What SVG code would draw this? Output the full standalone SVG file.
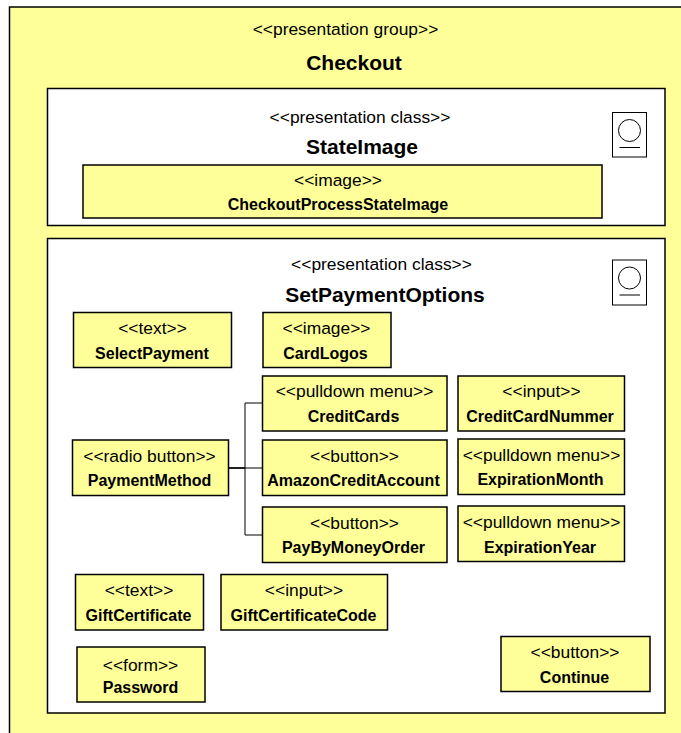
<svg xmlns="http://www.w3.org/2000/svg" width="681" height="733" viewBox="0 0 681 733">
<style>
text{font-family:"Liberation Sans",Arial,sans-serif;fill:#000;text-anchor:middle}
.s{font-size:17.4px}
.b{font-size:16px;font-weight:bold}
.h{font-size:21px;font-weight:bold}
.y{fill:#ffff99;stroke:#000;stroke-width:1.5}
.w{fill:#fff;stroke:#000;stroke-width:1.5}
.i{fill:none;stroke:#000;stroke-width:1}
.c{fill:none;stroke:#000;stroke-width:1}
</style>
<rect width="681" height="733" fill="#fff"/>
<g id="checkout">
<rect class="y" x="9.5" y="7" width="690" height="740"/>
<text class="s" x="345.500" y="35">&lt;&lt;presentation group&gt;&gt;</text>
<text class="h" x="354" y="70">Checkout</text>
</g>
<g id="stateimage">
<rect class="w" x="47.5" y="88.500" width="617.5" height="137"/>
<text class="s" x="360" y="123">&lt;&lt;presentation class&gt;&gt;</text>
<text class="h" x="362" y="154">StateImage</text>
<g><rect class="i" x="612.5" y="112.500" width="34" height="44.500"/><circle class="i" cx="629.5" cy="130.500" r="11"/><path class="i" d="M619.5 147.500H640"/></g>
</g>
<g id="checkoutprocessstateimage">
<rect class="y" x="83" y="165" width="519" height="53"/>
<text class="s" x="338" y="186">&lt;&lt;image&gt;&gt;</text>
<text class="b" x="338" y="210">CheckoutProcessStateImage</text>
</g>
<g id="setpaymentoptions">
<rect class="w" x="47.5" y="238.500" width="617.5" height="474.500"/>
<text class="s" x="381.500" y="270">&lt;&lt;presentation class&gt;&gt;</text>
<text class="h" x="385" y="302">SetPaymentOptions</text>
<g><rect class="i" x="612.5" y="260" width="34" height="45"/><circle class="i" cx="629.5" cy="278" r="11"/><path class="i" d="M619.5 295H640"/></g>
</g>
<g id="connectors">
<path class="c" d="M228 468H262M245 403V535M245 403H262M245 535H262"/>
<path d="M228 468H245" fill="none" stroke="#000" stroke-width="1.5"/>
</g>
<g id="selectpayment"><rect class="y" x="73.500" y="312.500" width="158" height="55"/><text class="s" x="152.500" y="334">&lt;&lt;text&gt;&gt;</text><text class="b" x="152" y="359">SelectPayment</text></g>
<g id="cardlogos"><rect class="y" x="263" y="312.500" width="128" height="55"/><text class="s" x="326.500" y="334">&lt;&lt;image&gt;&gt;</text><text class="b" x="325.500" y="359">CardLogos</text></g>
<g id="creditcards"><rect class="y" x="262.500" y="376" width="184.500" height="55"/><text class="s" x="354.500" y="397">&lt;&lt;pulldown menu&gt;&gt;</text><text class="b" x="353.500" y="422">CreditCards</text></g>
<g id="creditcardnummer"><rect class="y" x="458" y="376" width="166.500" height="55"/><text class="s" x="541.500" y="397">&lt;&lt;input&gt;&gt;</text><text class="b" x="540" y="422">CreditCardNummer</text></g>
<g id="paymentmethod"><rect class="y" x="72.500" y="440" width="156" height="55.500"/><text class="s" x="149.500" y="462">&lt;&lt;radio button&gt;&gt;</text><text class="b" x="149.500" y="486">PaymentMethod</text></g>
<g id="amazoncreditaccount"><rect class="y" x="262.500" y="440" width="184.500" height="55.500"/><text class="s" x="354.500" y="462">&lt;&lt;button&gt;&gt;</text><text class="b" x="353.500" y="486">AmazonCreditAccount</text></g>
<g id="expirationmonth"><rect class="y" x="458" y="439" width="166.500" height="55.500"/><text class="s" x="541.500" y="461">&lt;&lt;pulldown menu&gt;&gt;</text><text class="b" x="540.500" y="485">ExpirationMonth</text></g>
<g id="paybymoneyorder"><rect class="y" x="262.500" y="507" width="184.500" height="55.500"/><text class="s" x="354.500" y="529">&lt;&lt;button&gt;&gt;</text><text class="b" x="353.500" y="553">PayByMoneyOrder</text></g>
<g id="expirationyear"><rect class="y" x="458" y="506" width="166.500" height="55.500"/><text class="s" x="541.500" y="528">&lt;&lt;pulldown menu&gt;&gt;</text><text class="b" x="540" y="553">ExpirationYear</text></g>
<g id="giftcertificate"><rect class="y" x="75.500" y="574.500" width="128" height="55.500"/><text class="s" x="139" y="596">&lt;&lt;text&gt;&gt;</text><text class="b" x="138.500" y="621">GiftCertificate</text></g>
<g id="giftcertificatecode"><rect class="y" x="221" y="574.500" width="166.500" height="55.500"/><text class="s" x="304" y="596">&lt;&lt;input&gt;&gt;</text><text class="b" x="303.500" y="621">GiftCertificateCode</text></g>
<g id="password"><rect class="y" x="77" y="647" width="128" height="55"/><text class="s" x="140.500" y="671">&lt;&lt;form&gt;&gt;</text><text class="b" x="140.500" y="693">Password</text></g>
<g id="continue"><rect class="y" x="501" y="636.500" width="149" height="55"/><text class="s" x="575" y="658">&lt;&lt;button&gt;&gt;</text><text class="b" x="574.500" y="683">Continue</text></g>
</svg>
